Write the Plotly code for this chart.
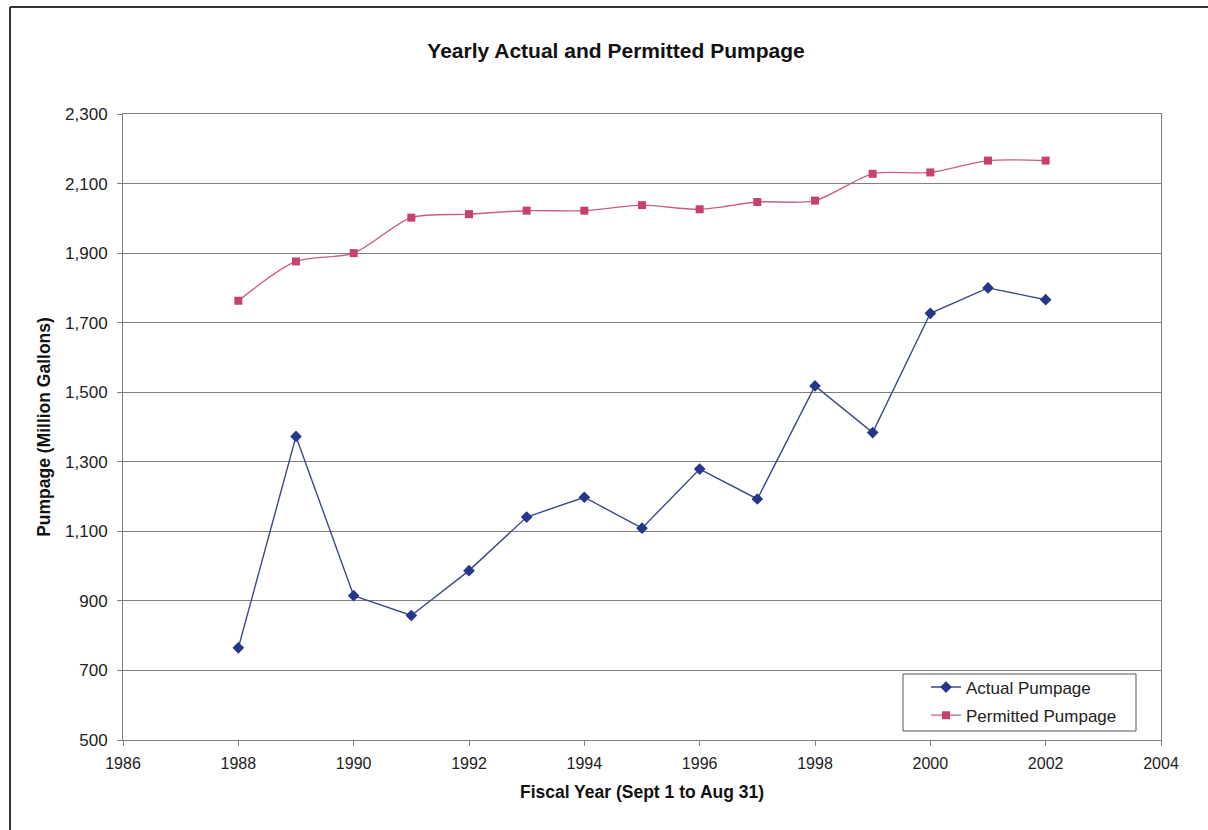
import plotly.graph_objects as go

# Fiscal years (Sept 1 to Aug 31)
years = [1988, 1989, 1990, 1991, 1992, 1993, 1994, 1995,
         1996, 1997, 1998, 1999, 2000, 2001, 2002]

# Pumpage, million gallons
actual_pumpage = [765, 1373, 915, 858, 987, 1141, 1198, 1109,
                  1279, 1193, 1518, 1384, 1727, 1800, 1766]
permitted_pumpage = [1763, 1876, 1900, 2002, 2012, 2022, 2022, 2038,
                     2026, 2047, 2051, 2128, 2132, 2166, 2166]

y_ticks = [500, 700, 900, 1100, 1300, 1500, 1700, 1900, 2100, 2300]
x_ticks = [1986, 1988, 1990, 1992, 1994, 1996, 1998, 2000, 2002, 2004]

FONT = "Arial, Liberation Sans, sans-serif"
GRID = "#7f7f7f"

fig = go.Figure()

fig.add_trace(go.Scatter(
    x=years, y=actual_pumpage, name="Actual Pumpage",
    legendgroup="actual",
    mode="lines+markers",
    line=dict(color="#3a4a86", width=1.4),
    marker=dict(symbol="diamond", size=9, color="#24378a"),
))

fig.add_trace(go.Scatter(
    x=years, y=permitted_pumpage, name="Permitted Pumpage",
    legendgroup="permitted",
    mode="lines+markers",
    line=dict(color="#c95d85", width=1.4, shape="spline", smoothing=0.8),
    marker=dict(symbol="square", size=8, color="#c8416e"),
))

W, H = 1208, 830
L, R, T, B = 123, 47, 114, 90
pw, ph = W - L - R, H - T - B


def px_x(x):
    return (x - L) / pw


def px_y(y):
    return (H - B - y) / ph


fig.update_layout(
    width=W, height=H,
    margin=dict(l=L, r=R, t=T, b=B),
    paper_bgcolor="white",
    plot_bgcolor="white",
    font=dict(family=FONT, color="#222222"),
    title=dict(
        text="<b>Yearly Actual and Permitted Pumpage</b>",
        x=616 / W, xanchor="center", xref="container",
        y=1 - 51 / H, yanchor="middle", yref="container",
        font=dict(size=21, color="#111111"),
    ),
    xaxis=dict(
        range=[1986, 2004], tickvals=x_ticks,
        showgrid=False, zeroline=False,
        showline=True, linecolor=GRID, linewidth=1, mirror=True,
        ticks="outside", ticklen=5, tickcolor=GRID,
        ticklabelstandoff=4,
        tickfont=dict(size=16, color="#222222"),
        title=dict(text="<b>Fiscal Year (Sept 1 to Aug 31)</b>",
                   font=dict(size=17.5, color="#111111"), standoff=14),
    ),
    yaxis=dict(
        range=[500, 2300], tickvals=y_ticks, tickformat=",",
        showgrid=True, gridcolor=GRID, gridwidth=1, zeroline=False,
        showline=True, linecolor=GRID, linewidth=1, mirror=True,
        ticks="outside", ticklen=5, tickcolor=GRID,
        ticklabelstandoff=6,
        tickfont=dict(size=17, color="#222222"),
        title=dict(text="<b>Pumpage (Million Gallons)</b>",
                   font=dict(size=17.5, color="#111111"), standoff=9),
    ),
    legend=dict(
        x=px_x(903), y=px_y(669.5), xanchor="left", yanchor="top",
        bgcolor="rgba(0,0,0,0)", borderwidth=0,
        font=dict(size=17, color="#222222"),
        indentation=23,
        tracegroupgap=3,
    ),
    showlegend=True,
)

# legend frame
fig.add_shape(type="rect", xref="paper", yref="paper", layer="above",
              x0=px_x(903), x1=px_x(1136), y0=px_y(674), y1=px_y(731),
              fillcolor="white", line=dict(color="#555555", width=1))

# outer chart frame
fig.add_shape(type="line", xref="paper", yref="paper",
              x0=px_x(10), x1=px_x(1215), y0=px_y(7), y1=px_y(7),
              line=dict(color="#333333", width=2))
fig.add_shape(type="line", xref="paper", yref="paper",
              x0=px_x(10), x1=px_x(10), y0=px_y(7), y1=px_y(835),
              line=dict(color="#333333", width=2))

fig.write_html("out.html")
